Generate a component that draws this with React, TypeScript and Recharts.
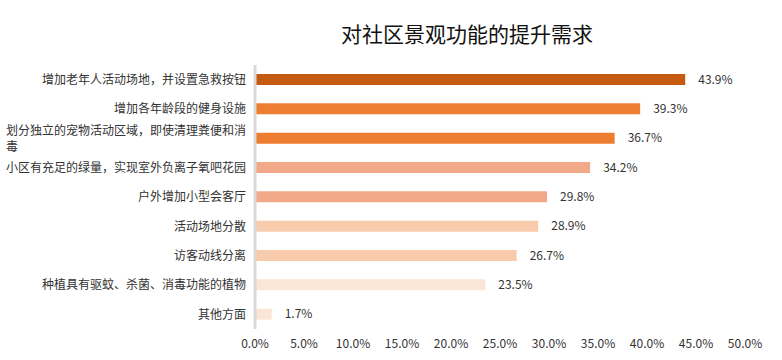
import React from "react";
import { BarChart, Bar, XAxis, YAxis, Cell, LabelList } from "recharts";

const categories = [
  "增加老年人活动场地，并设置急救按钮",
  "增加各年龄段的健身设施",
  "划分独立的宠物活动区域，即使清理粪便和消毒",
  "小区有充足的绿量，实现室外负离子氧吧花园",
  "户外增加小型会客厅",
  "活动场地分散",
  "访客动线分离",
  "种植具有驱蚊、杀菌、消毒功能的植物",
  "其他方面",
];
const values = [43.9, 39.3, 36.7, 34.2, 29.8, 28.9, 26.7, 23.5, 1.7];
const colors = [
  "#C55A11",
  "#ED7D31",
  "#ED7D31",
  "#F2A98A",
  "#F2A98A",
  "#F8CBAD",
  "#F8CBAD",
  "#FBE5D6",
  "#FBE5D6",
];
const xTicks = [0, 5, 10, 15, 20, 25, 30, 35, 40, 45, 50];
const title = "对社区景观功能的提升需求";

const data = categories.map((name, i) => ({ name, value: values[i] }));

const FONT = "'Noto Sans CJK SC', 'Noto Sans', sans-serif";
const CHAR_W = 12;
const MAX_CHARS = 20;

const CategoryTick = (props: any) => {
  const { x, y, payload } = props;
  const text: string = payload.value;
  const lines: string[] = [];
  for (let i = 0; i < text.length; i += MAX_CHARS) lines.push(text.slice(i, i + MAX_CHARS));
  if (lines.length === 1) {
    return (
      <text x={x} y={y} dy="0.35em" textAnchor="end" fontSize={12} fill="#333" fontFamily={FONT}>
        {text}
      </text>
    );
  }
  const blockW = lines[0].length * CHAR_W;
  const lh = 16;
  const startY = y - ((lines.length - 1) * lh) / 2;
  return (
    <g>
      {lines.map((l, i) => (
        <text
          key={i}
          x={x - blockW}
          y={startY + i * lh}
          dy="0.35em"
          textAnchor="start"
          fontSize={12}
          fill="#333"
          fontFamily={FONT}
        >
          {l}
        </text>
      ))}
    </g>
  );
};

export default function App() {
  return (
    <div style={{ position: "absolute", left: 0, top: 0, width: 782, height: 360, background: "#fff" }}>
      <div
        style={{
          position: "absolute",
          left: 467,
          top: 20,
          transform: "translateX(-50%)",
          fontSize: 21,
          fontFamily: FONT,
          color: "#111",
          whiteSpace: "nowrap",
          lineHeight: "26px",
        }}
      >
        {title}
      </div>
      <BarChart
        width={782}
        height={360}
        data={data}
        layout="vertical"
        margin={{ top: 65, right: 37, bottom: 1, left: 0 }}
      >
        <XAxis
          type="number"
          domain={[0, 50]}
          ticks={xTicks}
          tickFormatter={(v: number) => v.toFixed(1) + "%"}
          axisLine={false}
          tickLine={false}
          tick={{ fontSize: 12, fill: "#333", fontFamily: FONT }}
          tickMargin={4}
          height={30}
          interval={0}
        />
        <YAxis
          type="category"
          dataKey="name"
          width={255}
          axisLine={{ stroke: "#D9D9D9", strokeWidth: 3 }}
          tickLine={false}
          tickMargin={3}
          tick={<CategoryTick />}
          interval={0}
        />
        <Bar dataKey="value" barSize={11} isAnimationActive={false}>
          {data.map((d, i) => (
            <Cell key={d.name} fill={colors[i]} />
          ))}
          <LabelList
            dataKey="value"
            position="right"
            offset={13}
            formatter={(v: number) => v.toFixed(1) + "%"}
            style={{ fontSize: 12, fill: "#333", fontFamily: FONT }}
          />
        </Bar>
      </BarChart>
    </div>
  );
}
